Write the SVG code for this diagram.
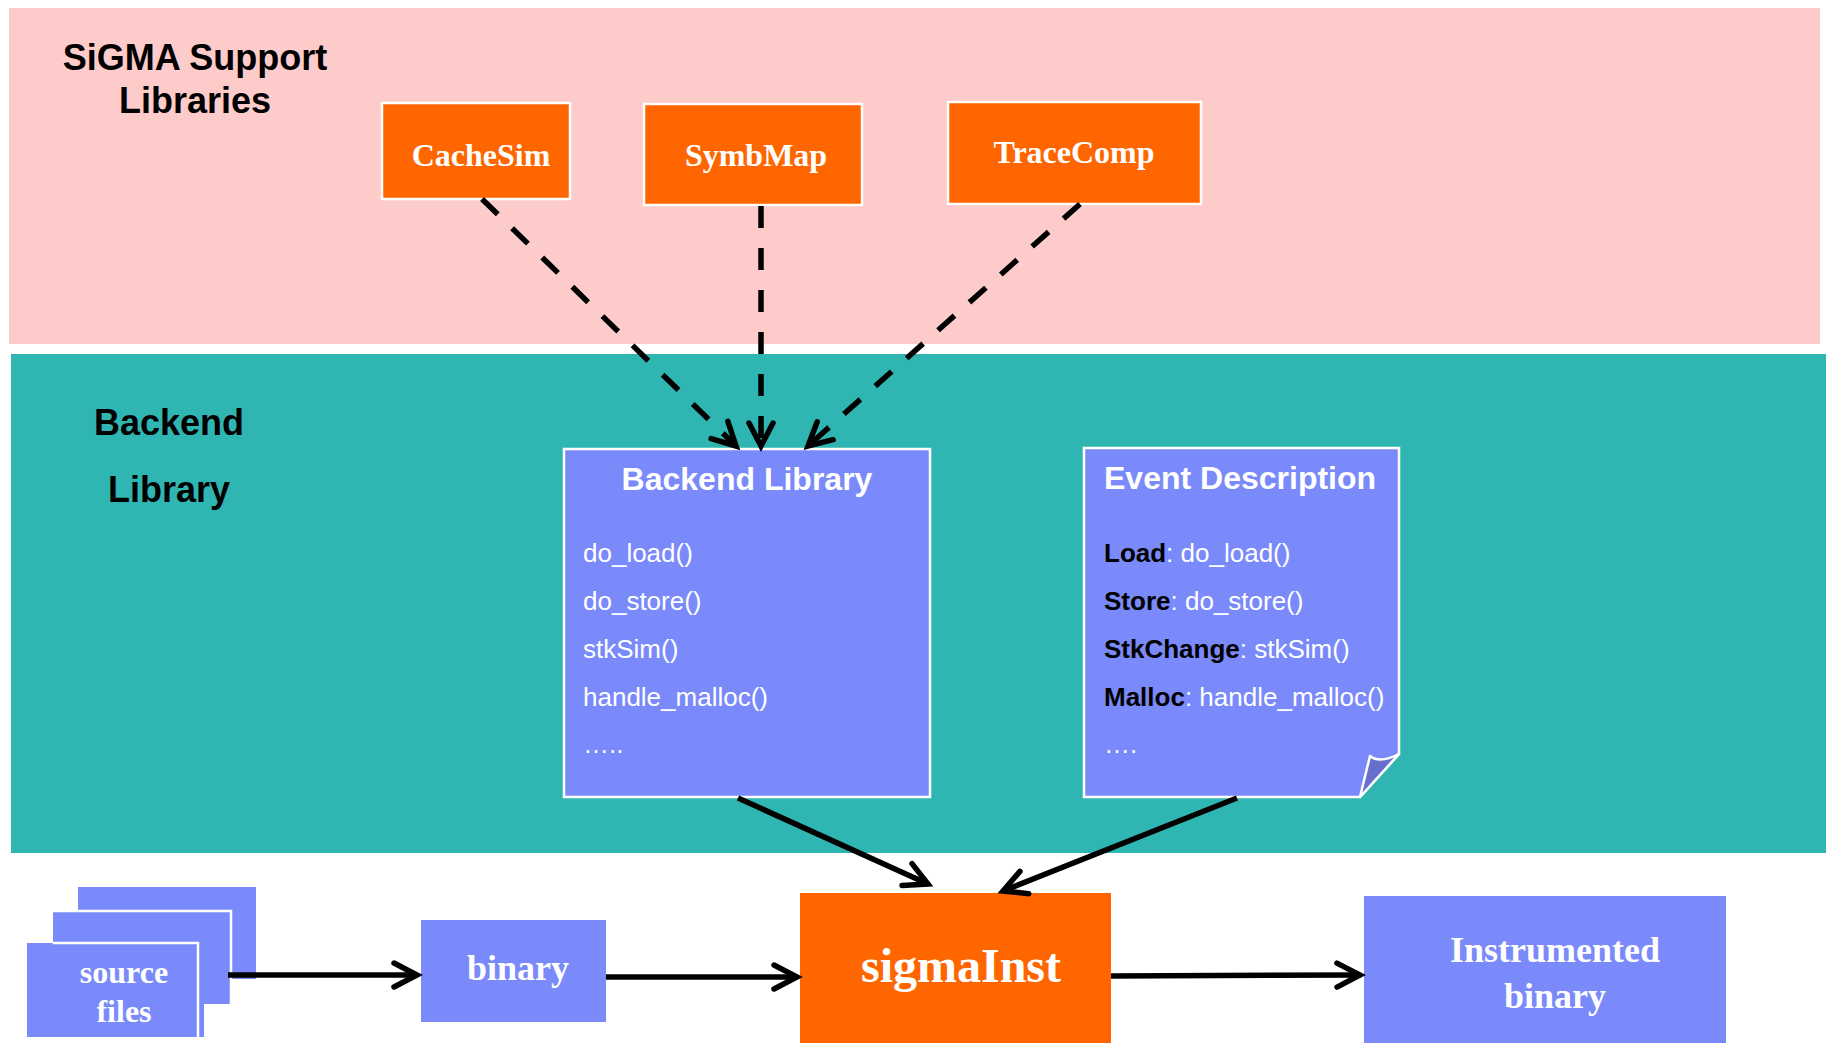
<svg xmlns="http://www.w3.org/2000/svg" width="1826" height="1043" viewBox="0 0 1826 1043">
  <defs>
    <style>
      .band-label { font-family: "Liberation Sans", Arial, sans-serif; font-weight: bold; font-size: 36px; fill: #000; text-anchor: middle; }
      .lib { fill: #FF6600; stroke: #FFFFFF; stroke-width: 2.5; }
      .lib-text { font-family: "Liberation Serif", "Times New Roman", serif; font-weight: bold; font-size: 32px; fill: #FFFFFF; text-anchor: middle; }
      .panel { fill: #7A8AFA; stroke: #FFFFFF; stroke-width: 2.5; }
      .panel-title { font-family: "Liberation Sans", Arial, sans-serif; font-weight: bold; font-size: 32px; fill: #FFFFFF; }
      .panel-item { font-family: "Liberation Sans", Arial, sans-serif; font-size: 26px; fill: #FFFFFF; }
      .key { font-weight: bold; fill: #000000; }
      .flow { fill: #7A8AFA; }
      .flow-text { font-family: "Liberation Serif", "Times New Roman", serif; font-weight: bold; font-size: 36px; fill: #FFFFFF; text-anchor: middle; }
      .flow-text.small { font-size: 32px; }
      .flow-text.large { font-size: 48px; }
      .dep { fill: none; stroke: #000; stroke-width: 5.5; stroke-dasharray: 22 20; marker-end: url(#ah); }
      .edge { fill: none; stroke: #000; stroke-width: 5.5; marker-end: url(#ah); }
    </style>
    <marker id="ah" markerUnits="userSpaceOnUse" viewBox="-30 -20 40 40" markerWidth="40" markerHeight="40" refX="0" refY="0" orient="auto" overflow="visible">
      <path d="M-23,-12 L0,0 L-23,12" fill="none" stroke="#000" stroke-width="5.5" stroke-linecap="round" stroke-linejoin="miter"/>
    </marker>
  </defs>

  <rect width="1826" height="1043" fill="#FFFFFF"/>

  <!-- layer bands -->
  <g id="support-band">
    <rect x="9" y="8" width="1811" height="336" fill="#FECBCB"/>
    <text class="band-label" x="195" y="70">SiGMA Support</text>
    <text class="band-label" x="195" y="113">Libraries</text>
  </g>
  <g id="backend-band">
    <rect x="11" y="354" width="1815" height="499" fill="#30B6B2"/>
    <text class="band-label" x="169" y="435">Backend</text>
    <text class="band-label" x="169" y="502">Library</text>
  </g>

  <!-- support libraries -->
  <g id="cachesim">
    <rect class="lib" x="382" y="103" width="188" height="96"/>
    <text class="lib-text" x="481" y="166">CacheSim</text>
  </g>
  <g id="symbmap">
    <rect class="lib" x="644" y="104" width="218" height="101"/>
    <text class="lib-text" x="756" y="166">SymbMap</text>
  </g>
  <g id="tracecomp">
    <rect class="lib" x="948" y="102" width="253" height="102"/>
    <text class="lib-text" x="1074" y="163">TraceComp</text>
  </g>

  <!-- backend library panel -->
  <g id="backend-library">
    <rect class="panel" x="564" y="449" width="366" height="348"/>
    <text class="panel-title" x="747" y="490" text-anchor="middle">Backend Library</text>
    <text class="panel-item" x="583" y="562">do_load()</text>
    <text class="panel-item" x="583" y="610">do_store()</text>
    <text class="panel-item" x="583" y="658">stkSim()</text>
    <text class="panel-item" x="583" y="706">handle_malloc()</text>
    <text class="panel-item" x="583" y="753">…..</text>
  </g>

  <!-- event description note with folded corner -->
  <g id="event-description">
    <path class="panel" d="M1084,448 L1399,448 L1399,754 L1360,797 L1084,797 Z"/>
    <path d="M1360,797 L1370,756 Q1380,764 1399,754 Z" fill="#6670CC" stroke="#FFFFFF" stroke-width="2.5" stroke-linejoin="round"/>
    <text class="panel-title" x="1104" y="489">Event Description</text>
    <text class="panel-item" x="1104" y="562"><tspan class="key">Load</tspan>: do_load()</text>
    <text class="panel-item" x="1104" y="610"><tspan class="key">Store</tspan>: do_store()</text>
    <text class="panel-item" x="1104" y="658"><tspan class="key">StkChange</tspan>: stkSim()</text>
    <text class="panel-item" x="1104" y="706"><tspan class="key">Malloc</tspan>: handle_malloc()</text>
    <text class="panel-item" x="1104" y="753">….</text>
  </g>

  <!-- build flow -->
  <g id="source-files">
    <rect class="flow" x="78" y="887" width="178" height="92"/>
    <rect class="flow" x="53" y="911" width="178" height="93"/>
    <polyline points="53,911 231,911 231,1004" fill="none" stroke="#FFFFFF" stroke-width="2.5"/>
    <rect class="flow" x="27" y="943" width="177" height="94"/>
    <polyline points="53,943 198,943 198,1037" fill="none" stroke="#FFFFFF" stroke-width="2.5"/>
    <text class="flow-text small" x="124" y="983">source</text>
    <text class="flow-text small" x="124" y="1022">files</text>
  </g>
  <g id="binary">
    <rect class="flow" x="421" y="920" width="185" height="102"/>
    <text class="flow-text" x="518" y="980">binary</text>
  </g>
  <g id="sigmainst">
    <rect x="800" y="893" width="311" height="160" fill="#FF6600"/>
    <text class="flow-text large" x="961" y="982">sigmaInst</text>
  </g>
  <g id="instrumented-binary">
    <rect class="flow" x="1364" y="896" width="362" height="157"/>
    <text class="flow-text" x="1555" y="962">Instrumented</text>
    <text class="flow-text" x="1555" y="1008">binary</text>
  </g>

  <!-- connectors -->
  <g id="connectors">
    <path class="dep" d="M482,199 L736,446"/>
    <path class="dep" d="M761,206 L761,446"/>
    <path class="dep" d="M1080,204 L808,446"/>
    <path class="edge" d="M738,798 L928,884"/>
    <path class="edge" d="M1237,798 L1003,891"/>
    <path class="edge" d="M228,975 L417,975"/>
    <path class="edge" d="M606,977 L797,977"/>
    <path class="edge" d="M1111,976 L1360,975"/>
  </g>
</svg>
